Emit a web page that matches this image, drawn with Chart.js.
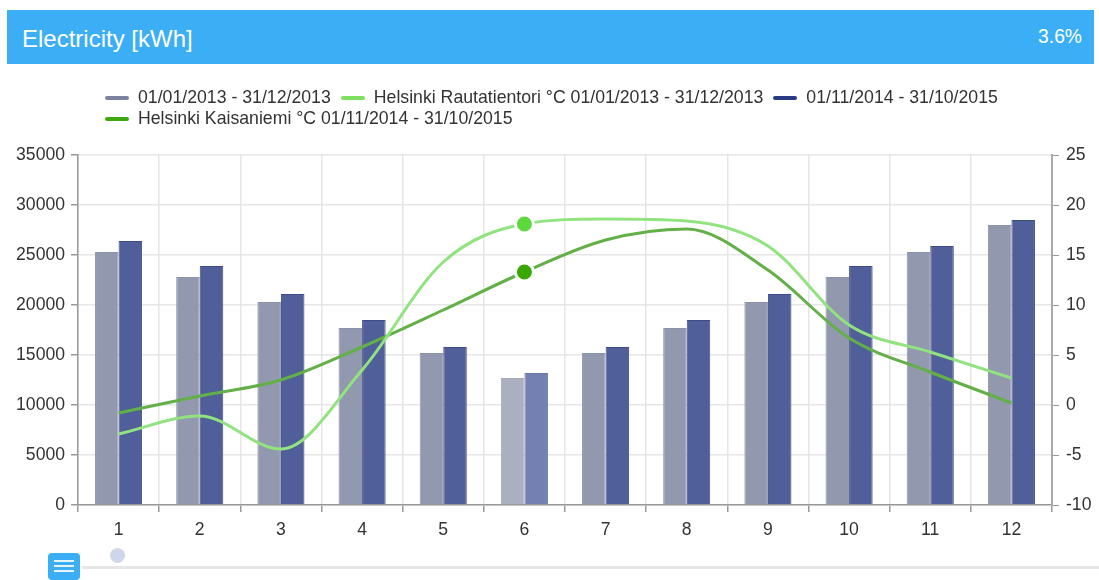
<!DOCTYPE html>
<html><head><meta charset="utf-8">
<script src="https://cdn.jsdelivr.net/npm/chart.js@4/dist/chart.umd.min.js"></script>
<style>
html,body{margin:0;padding:0;background:#fff;width:1099px;height:580px;overflow:hidden;font-family:"Liberation Sans",Arial,sans-serif}
#wrap{position:absolute;left:0;top:0;width:1099px;height:580px;filter:blur(0.4px)}
#hdr{position:absolute;left:7px;top:10px;width:1087px;height:54px;background:#3baef5}
#ttl{position:absolute;left:15px;top:15px;font-size:24px;line-height:27px;color:#fff}
#pct{position:absolute;right:12px;top:16px;font-size:19.3px;line-height:22px;color:#fff}
#legend{position:absolute;left:105px;top:87px;width:930px;display:flex;flex-wrap:wrap;font-size:17.7px;line-height:21px;color:#333;column-gap:10px}
.li{display:flex;align-items:center;white-space:nowrap}
.mk{width:24px;height:4px;border-radius:2px;margin-right:9px}
#c{position:absolute;left:0;top:0}
#dot{position:absolute;left:110px;top:548px;width:15px;height:15px;border-radius:50%;background:#d0d6ea}
#rail{position:absolute;left:82px;top:566px;width:1017px;height:3px;background:#e6e6e6}
#chat{position:absolute;left:48px;top:553px;width:32px;height:27px;border-radius:4px;background:#3baef5}
#chat i{position:absolute;left:6px;width:20px;height:2px;background:#e8f5fe}
</style></head><body>
<div id="wrap">
<canvas id="c" width="1099" height="580"></canvas>
<div id="hdr"><div id="ttl">Electricity [kWh]</div><div id="pct">3.6%</div></div>
<div id="legend"></div>
<div id="dot"></div><div id="rail"></div>
<div id="chat"><i style="top:7px"></i><i style="top:12px"></i><i style="top:17px"></i></div>
</div>
<script>
const categories = ['1','2','3','4','5','6','7','8','9','10','11','12'];
const kwh2013 = [25300,22800,20300,17700,15200,12700,15200,17700,20300,22800,25300,28000];
const kwh2015 = [26400,23900,21100,18500,15800,13200,15800,18500,21100,23900,25900,28500];
const tempRauta = [-2.9,-1.1,-4.4,3.5,14.3,18.1,18.6,18.4,15.9,8.0,5.3,2.7];
const tempKaisa = [-0.8,0.9,2.5,5.8,9.5,13.3,16.5,17.6,13.5,6.7,3.3,0.2];
const names = ['01/01/2013 - 31/12/2013','Helsinki Rautatientori °C 01/01/2013 - 31/12/2013','01/11/2014 - 31/10/2015','Helsinki Kaisaniemi °C 01/11/2014 - 31/10/2015'];
const legendColors = ['#7a82a0','#7fe060','#2b3a86','#3fa80e'];
const highlighted = 5;

const lg = document.getElementById('legend');
names.forEach((n,i)=>{
  const d=document.createElement('div');d.className='li';
  const m=document.createElement('span');m.className='mk';m.style.background=legendColors[i];
  const t=document.createElement('span');t.textContent=n;
  d.append(m,t);lg.append(d);
});
const pick=(a,b)=>categories.map((_,i)=>i===highlighted?b:a);
const barDs=(label,data,bg,bgHi,bd,bdHi,bw)=>({type:'bar',label,data,yAxisID:'y',order:2,
  backgroundColor:pick(bg,bgHi),borderColor:pick(bd,bdHi),borderWidth:bw,
  barPercentage:1,categoryPercentage:0.58});
const lineDs=(label,data,color,ptColor)=>({type:'line',label,data,yAxisID:'y1',order:1,
  borderColor:color,borderWidth:3,cubicInterpolationMode:'monotone',fill:false,
  pointRadius:pick(0,9),pointHoverRadius:pick(0,9),pointBackgroundColor:ptColor,pointBorderColor:'#fff',pointBorderWidth:3});
const tickFont={size:17.6,family:'"Liberation Sans"'};
new Chart(document.getElementById('c'),{
  data:{labels:categories,datasets:[
    barDs(names[0],kwh2013,'#9299ae','#abb0c1','#8a91a8','#a4a9bc',1),
    lineDs(names[1],tempRauta,'#90e37e','#5dd93e'),
    barDs(names[2],kwh2015,'#505f9a','#7580b2','#3d4b86','#6a76aa',1),
    lineDs(names[3],tempKaisa,'#62b047','#3aa800')
  ]},
  options:{
    responsive:false,animation:false,
    layout:{padding:{top:155,left:0,right:0,bottom:0}},
    plugins:{legend:{display:false},title:{display:false},tooltip:{enabled:false}},
    scales:{
      x:{offset:true,
        grid:{color:'#e6e6e6',lineWidth:1.5,tickColor:'#999',tickLength:7,offset:true},
        border:{color:'#999',width:1.5},
        ticks:{color:'#333',font:tickFont,padding:8,maxRotation:0},
        afterFit:s=>{s.height=75;}},
      y:{position:'left',min:0,max:35000,
        grid:{color:'#e6e6e6',lineWidth:1.5,tickColor:'#999',tickLength:7},
        border:{color:'#999',width:1.5},
        ticks:{stepSize:5000,color:'#333',font:tickFont,padding:6,callback:v=>String(v)},
        afterFit:s=>{s.width=78;}},
      y1:{position:'right',min:-10,max:25,
        grid:{drawOnChartArea:false,tickColor:'#999',tickLength:7},
        border:{color:'#aaa',width:2},
        ticks:{stepSize:5,color:'#333',font:tickFont,padding:7,callback:v=>String(v)},
        afterFit:s=>{s.width=47;}}
    }
  }
});
</script>
</body></html>
